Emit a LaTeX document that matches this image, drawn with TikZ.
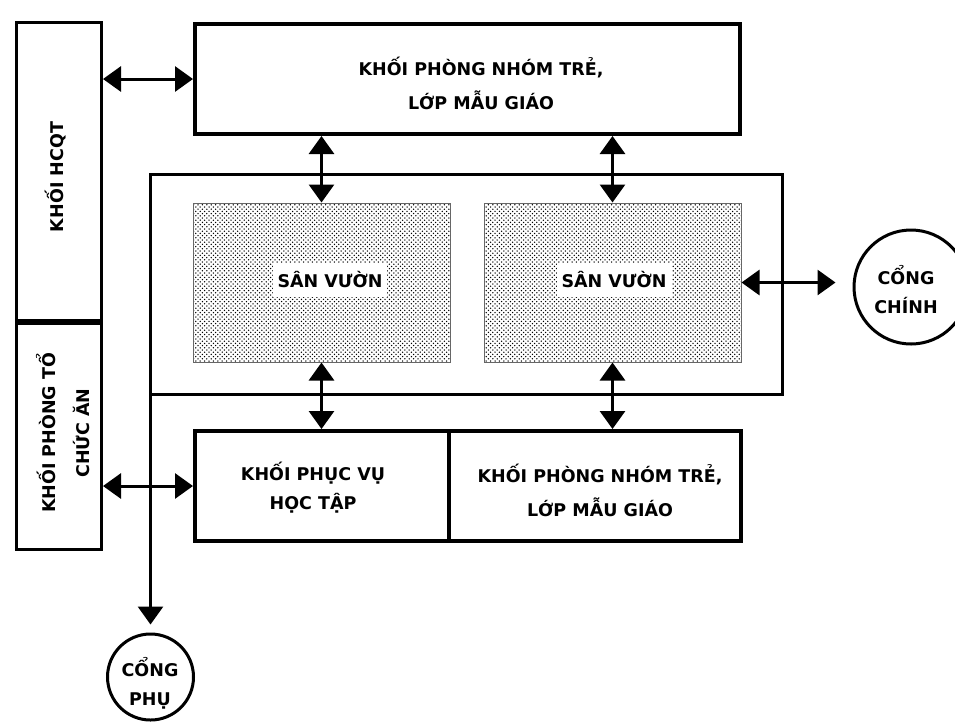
\documentclass[tikz,border=0pt]{standalone}
\usepackage{fontspec}
\setmainfont{DejaVu Sans}
\usetikzlibrary{arrows.meta,patterns}
\pgfdeclarepatternformonly{gdots}{\pgfpoint{-1pt}{-1pt}}{\pgfpoint{5pt}{5pt}}{\pgfpoint{4.4pt}{4.4pt}}{%
  \pgfpathcircle{\pgfpoint{0pt}{0pt}}{0.75pt}%
  \pgfpathcircle{\pgfpoint{2.2pt}{2.2pt}}{0.75pt}%
  \pgfusepath{fill}}
\tikzset{
  thickbox/.style={draw=black, line width=4pt, rectangle, inner sep=0pt},
  midbox/.style={draw=black, line width=3pt, rectangle, inner sep=0pt},
  garden/.style={draw=black!60, line width=1pt, rectangle, inner sep=0pt, pattern=gdots, pattern color=black},
  gate/.style={draw=black, line width=3pt, circle, inner sep=0pt},
  txt/.style={align=center, font=\bfseries\fontsize{17.5}{34}\selectfont, inner sep=0pt},
  gtxt/.style={align=center, font=\bfseries\fontsize{17.5}{29}\selectfont, inner sep=0pt},
  lbl/.style={fill=white, font=\bfseries\fontsize{17.5}{20}\selectfont, inner xsep=5pt, inner ysep=9pt},
  biarrow/.style={line width=3pt, {Triangle[length=18pt,width=25pt]}-{Triangle[length=18pt,width=25pt]}},
  onearrow/.style={line width=3pt, -{Triangle[length=18pt,width=25pt]}}
}
\begin{document}
\begin{tikzpicture}[x=1pt,y=-1pt]
\useasboundingbox (0,0) rectangle (955,724);
% boxes
\node[thickbox, minimum width=545pt, minimum height=110pt] (top) at (467.5,79) {};
\node[midbox, minimum width=85pt, minimum height=298pt] (hcqt) at (59,171.5) {};
\node[midbox, minimum width=85pt, minimum height=226pt] (an) at (59,436.5) {};
\node[midbox, minimum width=632pt, minimum height=220pt] (outer) at (466.5,284.5) {};
\node[garden, minimum width=257pt, minimum height=159pt] (g1) at (321.5,282.5) {};
\node[garden, minimum width=257pt, minimum height=159pt] (g2) at (612.5,282.5) {};
\node[thickbox, minimum width=254pt, minimum height=110pt] (phucvu) at (322,486) {};
\node[thickbox, minimum width=292pt, minimum height=110pt] (nhom2) at (595,486) {};
\node[gate, minimum size=114pt] (chinh) at (911,287) {};
\node[gate, minimum size=86pt] (phu) at (150.5,677) {};
% texts
\node[txt] (ttop) at (481,83) {KHỐI PHÒNG NHÓM TRẺ,\\LỚP MẪU GIÁO};
\node[txt, rotate=90] (thcqt) at (56,177) {KHỐI HCQT};
\node[txt, rotate=90] (tan) at (63,433) {KHỐI PHÒNG TỔ\\CHỨC ĂN};
\node[lbl] (tg1) at (330,280) {SÂN VƯỜN};
\node[lbl] (tg2) at (614,280) {SÂN VƯỜN};
\node[gtxt] (tpv) at (313,488) {KHỐI PHỤC VỤ\\HỌC TẬP};
\node[txt] (tnhom2) at (600,490) {KHỐI PHÒNG NHÓM TRẺ,\\LỚP MẪU GIÁO};
\node[gtxt] (tchinh) at (906,290) {CỔNG\\CHÍNH};
\node[gtxt] (tphu) at (150,683) {CỔNG\\PHỤ};
% connectors
\draw[biarrow] (hcqt.east |- top.west) -- (top.west);
\draw[biarrow] (an.east |- phucvu.west) -- (phucvu.west);
\draw[biarrow] (g1.north |- top.south) -- (g1.north);
\draw[biarrow] (g2.north |- top.south) -- (g2.north);
\draw[biarrow] (g1.south) -- (g1.south |- phucvu.north);
\draw[biarrow] (g2.south) -- (g2.south |- nhom2.north);
\draw[biarrow, shorten >=17pt] (g2.east) -- (g2.east -| chinh.west);
\draw[onearrow, shorten >=8pt] ([shift={(1.5pt,1.5pt)}]outer.south west) -- (phu.north);
\end{tikzpicture}
\end{document}
